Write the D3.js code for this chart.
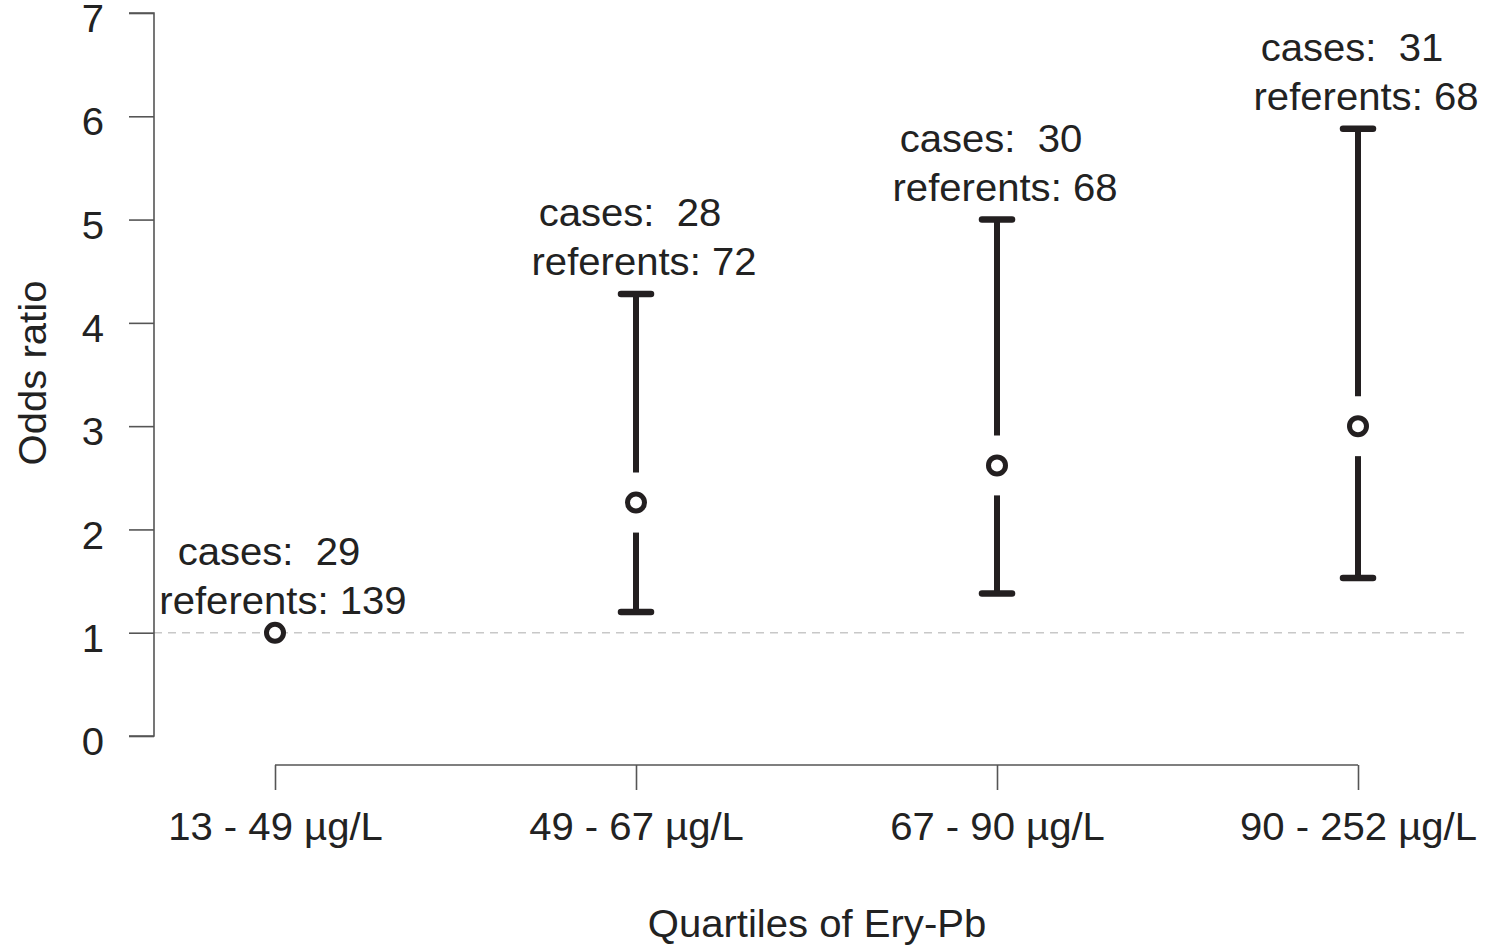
<!DOCTYPE html>
<html>
<head>
<meta charset="utf-8">
<script src="https://cdn.jsdelivr.net/npm/d3@7"></script>
<style>
  html, body { margin: 0; padding: 0; background: #fff; }
  svg { display: block; font-family: "Liberation Sans", Arial, Helvetica, sans-serif; }
</style>
</head>
<body>
<svg id="chart" width="1497" height="947"></svg>
<script>
// Quartiles of erythrocyte lead and their odds ratios with 95% CI
const categories = ["13 - 49 µg/L", "49 - 67 µg/L", "67 - 90 µg/L", "90 - 252 µg/L"];
const oddsRatio  = [1, 2.26, 2.62, 3.0];
const ciLower    = [null, 1.20, 1.38, 1.53];
const ciUpper    = [null, 4.28, 5.00, 5.88];
const cases      = [29, 28, 30, 31];
const referents  = [139, 72, 68, 68];
const yTicks     = [0, 1, 2, 3, 4, 5, 6, 7];

const svg = d3.select("#chart");
const ink = "#231f20";
const textColor = "#222";
const axisColor = "#555";
const fontSize = 38;
const stretch = 1.055;   // slightly wide lettering

const x = d3.scalePoint().domain(categories).range([275, 1358]);
const y = d3.scaleLinear().domain([0, 7]).range([736, 13]);

// places a text at (px, py), widened horizontally around its anchor
function placeText(sel, px, py, rotate) {
  sel.attr("x", 0).attr("y", 0)
     .attr("transform", `translate(${px},${py})${rotate ? ` rotate(${rotate})` : ""} scale(${stretch},1)`)
     .attr("font-size", fontSize).attr("fill", textColor);
  return sel;
}

// reference line at OR = 1
svg.append("line")
  .attr("x1", 154).attr("x2", 1465)
  .attr("y1", y(1)).attr("y2", y(1))
  .attr("stroke", "#c8c8c8").attr("stroke-width", 1.5)
  .attr("stroke-dasharray", "8,6");

// y axis
const yAxis = svg.append("g")
  .attr("transform", "translate(154,0)")
  .call(d3.axisLeft(y).tickValues(yTicks).tickSize(25).tickFormat(d3.format("d")));
yAxis.select(".domain").attr("stroke", axisColor).attr("stroke-width", 1.6).attr("d", `M-25,${y(7)}H0V${y(0)}H-25`);
yAxis.selectAll(".tick line").attr("stroke", axisColor).attr("stroke-width", 1.6);
yAxis.selectAll(".tick text").each(function() {
  placeText(d3.select(this), -50, 5).attr("dy", "0.36em").attr("text-anchor", "end");
});

// x axis
const xAxis = svg.append("g")
  .attr("transform", "translate(0,765)")
  .call(d3.axisBottom(x).tickSize(25).tickSizeOuter(0));
xAxis.select(".domain").attr("stroke", axisColor).attr("stroke-width", 1.6).attr("d", `M${x(categories[0])},0H${x(categories[3])}`);
xAxis.selectAll(".tick line").attr("stroke", axisColor).attr("stroke-width", 1.6);
xAxis.selectAll(".tick text").each(function() {
  placeText(d3.select(this), 0, 75).attr("dy", null).attr("text-anchor", "middle");
});

// axis titles
placeText(svg.append("text").attr("text-anchor", "middle").text("Quartiles of Ery-Pb"), 817, 937);
placeText(svg.append("text").attr("text-anchor", "middle").text("Odds ratio"), 46, 373, -90);

const rows = categories.map((c, i) => ({
  cat: c, or: oddsRatio[i], lo: ciLower[i], hi: ciUpper[i],
  cases: cases[i], referents: referents[i]
}));

// confidence intervals, broken around the point estimate
const gap = 30, capHalf = 15;
const ci = svg.append("g").attr("stroke", ink).attr("stroke-width", 6).attr("stroke-linecap", "butt");
rows.filter(d => d.lo !== null).forEach(d => {
  const cx = x(d.cat), cy = y(d.or);
  ci.append("line").attr("x1", cx).attr("x2", cx).attr("y1", y(d.hi)).attr("y2", cy - gap);
  ci.append("line").attr("x1", cx).attr("x2", cx).attr("y1", cy + gap).attr("y2", y(d.lo));
  [d.hi, d.lo].forEach(v => {
    ci.append("line").attr("x1", cx - capHalf).attr("x2", cx + capHalf)
      .attr("y1", y(v)).attr("y2", y(v)).attr("stroke-width", 6.5).attr("stroke-linecap", "round");
  });
});

// point estimates
svg.append("g").selectAll("circle").data(rows).join("circle")
  .attr("cx", d => x(d.cat)).attr("cy", d => y(d.or))
  .attr("r", 8.5)
  .attr("fill", "#fff").attr("stroke", ink).attr("stroke-width", 5);

// counts above each interval
const lab = svg.append("g").attr("text-anchor", "middle");
rows.forEach(d => {
  const top = d.hi !== null ? d.hi : d.or;
  const base = y(top) - 19;
  placeText(lab.append("text").style("white-space", "pre").text(`cases:  ${d.cases}`),
            x(d.cat) - 6, base - 49);
  placeText(lab.append("text").text(`referents: ${d.referents}`),
            x(d.cat) + 8, base);
});
</script>
</body>
</html>
